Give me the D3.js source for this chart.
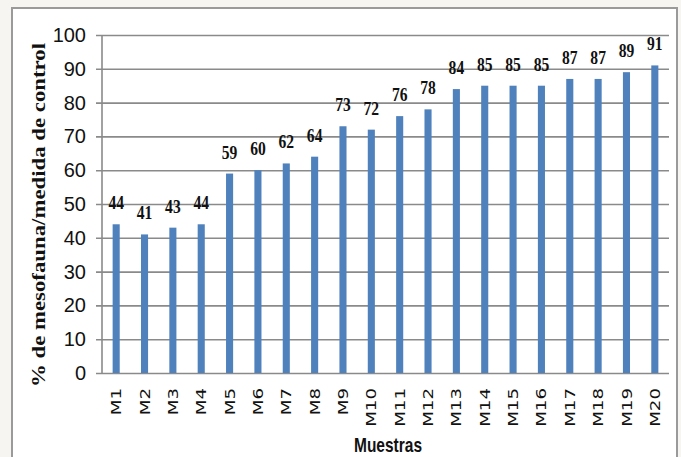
<!DOCTYPE html>
<html>
<head>
<meta charset="utf-8">
<script src="https://cdn.jsdelivr.net/npm/d3@7"></script>
<style>
  html, body { margin: 0; padding: 0; background: #f6f5f1; }
  svg { display: block; }
</style>
</head>
<body>
<svg id="chart" width="681" height="457"></svg>
<script>
// Samples and their percentage of mesofauna relative to the control
const categories = ["M1","M2","M3","M4","M5","M6","M7","M8","M9","M10",
                    "M11","M12","M13","M14","M15","M16","M17","M18","M19","M20"];
const values = [44, 41, 43, 44, 59, 60, 62, 64, 73, 72,
                76, 78, 84, 85, 85, 85, 87, 87, 89, 91];
const yTicks = [0, 10, 20, 30, 40, 50, 60, 70, 80, 90, 100];
const yTitle = "% de mesofauna/medida de control";
const xTitle = "Muestras";

const svg = d3.select("#chart");

// outer chart frame
svg.append("rect")
  .attr("x", 12).attr("y", 8).attr("width", 665).attr("height", 460)
  .attr("fill", "#ffffff").attr("stroke", "#9a9a9a").attr("stroke-width", 2);

const plot = { left: 102, right: 669, top: 35, bottom: 373 };

const y = d3.scaleLinear().domain([0, 100]).range([plot.bottom, plot.top]);
const x = d3.scaleBand().domain(categories)
  .range([plot.left, plot.right])
  .paddingInner(0.75).paddingOuter(0.375);

// horizontal gridlines with value labels
const yAxis = svg.append("g")
  .attr("transform", `translate(${plot.right},0)`)
  .call(d3.axisLeft(y).tickValues(yTicks).tickSize(plot.right - plot.left + 6).tickPadding(10));
yAxis.select(".domain").remove();
yAxis.selectAll(".tick line").attr("stroke", "#8a8a8a").attr("stroke-width", 1.6);
yAxis.selectAll(".tick text")
  .attr("fill", "#111")
  .style("font-family", "'Liberation Sans Narrow', 'Liberation Sans', sans-serif")
  .style("font-size", "20px");

// vertical axis line
svg.append("line")
  .attr("x1", plot.left).attr("x2", plot.left)
  .attr("y1", plot.top).attr("y2", plot.bottom)
  .attr("stroke", "#8a8a8a").attr("stroke-width", 1.6);

// bars
svg.append("g").selectAll("rect")
  .data(values)
  .join("rect")
  .attr("x", (d, i) => x(categories[i]))
  .attr("width", x.bandwidth())
  .attr("y", d => y(d))
  .attr("height", d => y(0) - y(d))
  .attr("fill", "#4f81bd");

// value labels above the bars
svg.append("g").selectAll("text")
  .data(values)
  .join("text")
  .attr("transform", (d, i) =>
    `translate(${x(categories[i]) + x.bandwidth() / 2},${y(d) - 15}) scale(0.8,1)`)
  .attr("text-anchor", "middle")
  .style("font-family", "'Liberation Serif', 'Times New Roman', serif")
  .style("font-weight", "bold")
  .style("font-size", "19.5px")
  .attr("fill", "#111")
  .text(d => d);

// category labels, rotated
const xAxis = svg.append("g")
  .attr("transform", `translate(0,${plot.bottom})`)
  .call(d3.axisBottom(x).tickSize(0));
xAxis.select(".domain").remove();
xAxis.selectAll(".tick text")
  .attr("transform", "translate(0,15) rotate(-90) scale(1.3,1)")
  .attr("x", 0).attr("y", 0).attr("dy", "0.36em")
  .attr("text-anchor", "end")
  .attr("fill", "#111")
  .style("font-family", "'DejaVu Sans', Verdana, sans-serif")
  .style("font-size", "14px");

// y axis title
svg.append("text")
  .attr("transform", "translate(45,215) rotate(-90)")
  .attr("text-anchor", "middle")
  .attr("textLength", 344).attr("lengthAdjust", "spacingAndGlyphs")
  .style("font-family", "'Liberation Serif', 'Times New Roman', serif")
  .style("font-weight", "bold")
  .style("font-size", "19px")
  .attr("fill", "#111")
  .text(yTitle);

// x axis title
svg.append("text")
  .attr("x", 388).attr("y", 452)
  .attr("text-anchor", "middle")
  .attr("textLength", 68).attr("lengthAdjust", "spacingAndGlyphs")
  .style("font-family", "'Liberation Sans Narrow', 'Liberation Sans', sans-serif")
  .style("font-weight", "bold")
  .style("font-size", "21px")
  .attr("fill", "#111")
  .text(xTitle);
</script>
</body>
</html>
